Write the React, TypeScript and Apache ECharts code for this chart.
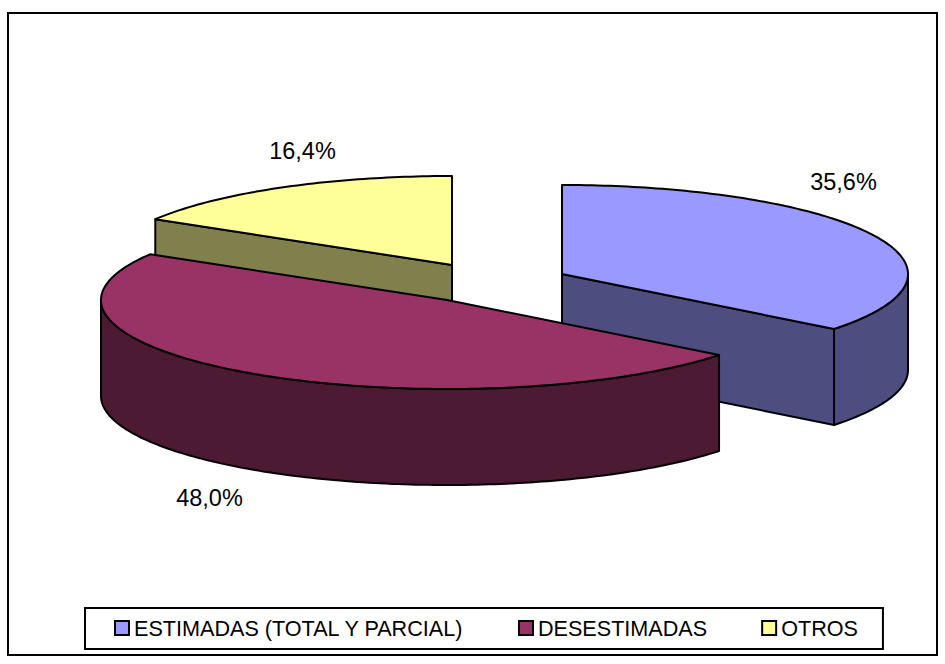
import React, { useEffect, useRef } from "react";
import * as echarts from "echarts";

const categories = ["ESTIMADAS (TOTAL Y PARCIAL)", "DESESTIMADAS", "OTROS"];
const values = [35.6, 48.0, 16.4];
const topColors = ["#9999FF", "#993366", "#FFFF99"];
const sideColors = ["#4D4D80", "#4D1A33", "#80804D"];
const centers = [[562, 274], [447, 300], [452, 265]];
const labelPos = [[843.5, 182], [209.5, 498], [302.5, 151]];
const zLevels = [2, 3, 2];

const RX = 346, RY = 89, DEPTH = 96;
const total = values.reduce((a, b) => a + b, 0);

function pt(c: number[], deg: number, dy = 0) {
  const r = (deg * Math.PI) / 180;
  return [c[0] + RX * Math.sin(r), c[1] - RY * Math.cos(r) + dy];
}
function rim(c: number[], a: number, b: number, dy = 0) {
  const out: number[][] = [];
  const n = Math.max(2, Math.ceil(Math.abs(b - a)));
  for (let i = 0; i <= n; i++) out.push(pt(c, a + ((b - a) * i) / n, dy));
  return out;
}

function renderSlice(index: number) {
  return () => {
    const start = (values.slice(0, index).reduce((a, b) => a + b, 0) / total) * 360;
    const end = start + (values[index] / total) * 360;
    const c = centers[index];
    const dark = { fill: sideColors[index], stroke: "#000", lineWidth: 2, lineJoin: "round" };
    const light = { fill: topColors[index], stroke: "#000", lineWidth: 2, lineJoin: "round" };
    const children: any[] = [];
    const add = (points: number[][], style: any) =>
      children.push({ type: "polygon", shape: { points }, style });
    const cut = (deg: number) => {
      const e = pt(c, deg);
      add([c, e, [e[0], e[1] + DEPTH], [c[0], c[1] + DEPTH]], dark);
    };
    if (index === 0) cut(end);
    if (index === 2) cut(start);
    // Only the rim between 90 and 270 degrees faces the viewer
    const wa = Math.max(start, 90), wb = Math.min(end, 270);
    if (wb > wa) add([...rim(c, wa, wb), ...rim(c, wb, wa, DEPTH)], dark);
    add([c, ...rim(c, start, end)], light);
    children.push({
      type: "text",
      x: labelPos[index][0],
      y: labelPos[index][1],
      style: {
        text: values[index].toFixed(1).replace(".", ",") + "%",
        fill: "#000",
        font: "23.5px 'Liberation Sans', Arial, sans-serif",
        align: "center",
        verticalAlign: "middle",
      },
    });
    return { type: "group", children };
  };
}

export default function App() {
  const ref = useRef<HTMLDivElement>(null);
  useEffect(() => {
    const chart = echarts.init(ref.current!, undefined, { renderer: "svg" });
    chart.setOption({
      animation: false,
      backgroundColor: "#fff",
      graphic: [
        { type: "rect", shape: { x: 8, y: 13, width: 929, height: 642 }, style: { fill: "none", stroke: "#000", lineWidth: 2 }, z: 0 },
      ],
      legend: {
        data: categories,
        left: 85,
        top: 608,
        orient: "horizontal",
        icon: "rect",
        itemWidth: 14,
        itemHeight: 14,
        itemGap: 54,
        padding: [9, 25, 10, 29],
        borderColor: "#000",
        borderWidth: 2,
        selectedMode: false,
        itemStyle: { borderColor: "#000", borderWidth: 2 },
        textStyle: { fontFamily: "'Liberation Sans', Arial, sans-serif", fontSize: 21.6, color: "#000" },
      },
      series: categories.map((name, i) => ({
        type: "custom",
        name,
        coordinateSystem: "none",
        silent: true,
        z: zLevels[i],
        data: [values[i]],
        itemStyle: { color: topColors[i], borderColor: "#000", borderWidth: 2 },
        renderItem: renderSlice(i),
      })),
    });
    return () => chart.dispose();
  }, []);
  return <div ref={ref} style={{ position: "fixed", left: 0, top: 0, width: 945, height: 664 }} />;
}
